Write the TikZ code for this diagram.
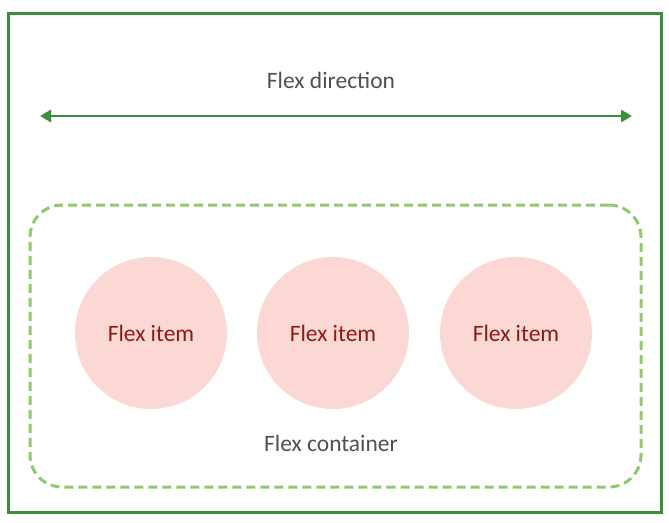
\documentclass[tikz,border=0pt]{standalone}
\usepackage{fontspec}
\setmainfont{Carlito}
\usepackage{tikz}
\usetikzlibrary{arrows.meta}
\definecolor{fxGreen}{HTML}{3A8E3A}
\definecolor{fxLightGreen}{HTML}{8DCB6B}
\definecolor{fxPink}{HTML}{FCD8D4}
\definecolor{fxRed}{HTML}{8E1B14}
\definecolor{fxGray}{HTML}{505050}

\begin{document}
\begin{tikzpicture}[x=1pt,y=-1pt,
    item/.style={circle, fill=fxPink, minimum size=152pt, inner sep=0pt,
                 text=fxRed, font=\fontsize{23.5}{28}\selectfont},
    lbl/.style={text=fxGray, font=\fontsize{23.5}{28}\selectfont}]
    \useasboundingbox (0,0) rectangle (669,522);
    \node[draw=fxGreen, line width=3pt, minimum width=653pt, minimum height=499pt,
          inner sep=0pt] (frame) at (334.5,263) {};
    \node[draw=fxLightGreen, line width=3pt, dash pattern=on 9pt off 5pt,
          rounded corners=32pt, minimum width=611pt, minimum height=282pt,
          inner sep=0pt] (container) at (335.5,346) {};
    \node[lbl] (dirlabel) at (331,80) {Flex direction};
    \coordinate (dirL) at (40,116);
    \coordinate (dirR) at (632,116);
    \draw[{Triangle[length=11pt,width=12pt]}-{Triangle[length=11pt,width=12pt]},
          line width=2.8pt, fxGreen] (dirL) -- (dirR);
    \node[item] (item1) at (151,333) {Flex item};
    \node[item] (item2) at (333,333) {Flex item};
    \node[item] (item3) at (516,333) {Flex item};
    \node[lbl] (clabel) at (331,443) {Flex container};
\end{tikzpicture}
\end{document}
